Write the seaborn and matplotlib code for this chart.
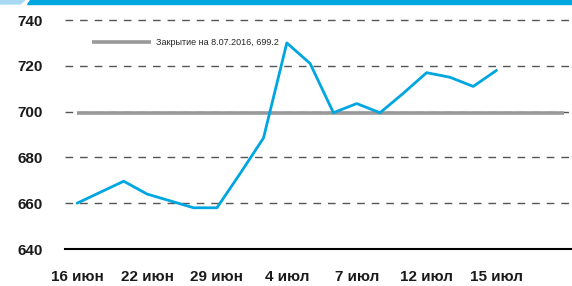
import numpy as np
import pandas as pd
import matplotlib
matplotlib.use("Agg")
import matplotlib.pyplot as plt
import seaborn as sns
from matplotlib.patches import Polygon

# Data (one point per trading day)
day_idx = list(range(19))
prices = [660, 664.8, 669.6, 664, 661, 658, 658, 673, 688.5, 730,
          721, 699.5, 703.5, 699.5, 708, 717, 715, 711, 718]
tick_pos = [0, 3, 6, 9, 12, 15, 18]
tick_labels = ["16 июн", "22 июн", "29 июн", "4 июл", "7 июл", "12 июл", "15 июл"]
close_value = 699.2
close_label = "Закрытие на 8.07.2016, 699.2"
y_ticks = [640, 660, 680, 700, 720, 740]

df = pd.DataFrame({"day": day_idx, "price": prices})

sns.set_style("white")
plt.rcParams['font.family'] = ['Liberation Sans', 'DejaVu Sans']

fig = plt.figure(figsize=(5.72, 2.86), dpi=100)
ax = fig.add_axes([65 / 572, 1 - 249 / 286, 1 - 65 / 572, (249 - 20) / 286])

# top decorative bar
fig.patches.append(Polygon([[0, 1], [25 / 572, 1], [20 / 572, 1 - 4 / 286], [0, 1 - 4 / 286]],
                           closed=True, transform=fig.transFigure, color="#a9d9f2", zorder=5))
fig.patches.append(Polygon([[30 / 572, 1], [1, 1], [1, 1 - 4 / 286], [27 / 572, 1 - 4 / 286]],
                           closed=True, transform=fig.transFigure, color="#00a6e0", zorder=5))

# dashed grid
for v in y_ticks[1:]:
    ax.axhline(v, color="#555555", lw=1.0, ls=(0, (5.5, 5)), zorder=1, clip_on=False)

# closing level
ax.plot([0, 20.9], [close_value, close_value], color="#999999", lw=2.6, zorder=2,
        solid_capstyle="butt")

sns.lineplot(data=df, x="day", y="price", ax=ax, color="#00a6e0", lw=2.0, zorder=3)

# legend drawn by hand
ax.plot([0.65, 3.15], [730.3, 730.3], color="#999999", lw=2.6, solid_capstyle="butt")
ax.text(3.4, 730.3, close_label, fontsize=6.5, va="center", ha="left",
        family=['Liberation Sans Narrow', 'Liberation Sans', 'DejaVu Sans'])

ax.set_xlim(-0.52, 21.24)
ax.set_ylim(640, 740)
ax.set_yticks(y_ticks)
ax.set_xticks(tick_pos)
ax.set_xticklabels(tick_labels)
ax.set_xlabel("")
ax.set_ylabel("")
ax.tick_params(axis="both", length=0, labelsize=11)
ax.tick_params(axis="y", pad=16)
ax.tick_params(axis="x", pad=15)
for lbl in ax.get_xticklabels() + ax.get_yticklabels():
    lbl.set_fontweight("bold")
    lbl.set_color("#1a1a1a")

for s in ["top", "right", "left"]:
    ax.spines[s].set_visible(False)
ax.spines["bottom"].set_color("black")
ax.spines["bottom"].set_linewidth(1.5)

fig.savefig("out.png", dpi=100)
